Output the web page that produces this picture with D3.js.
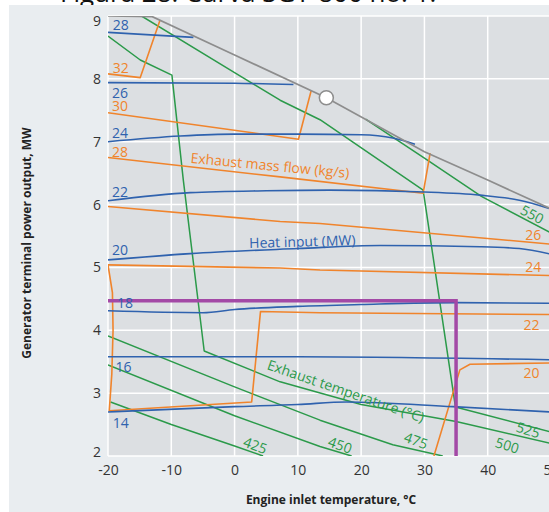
<!DOCTYPE html>
<html>
<head>
<meta charset="utf-8">
<script src="https://cdn.jsdelivr.net/npm/d3@7"></script>
<style>
html, body { margin: 0; padding: 0; background: #fff; }
svg { display: block; font-family: "Open Sans", sans-serif; }
</style>
</head>
<body>
<svg id="chart" width="549" height="512"></svg>
<script>
// axis ticks
var xTicks = [-20, -10, 0, 10, 20, 30, 40, 50];
var yTicks = [2, 3, 4, 5, 6, 7, 8, 9];

// operating limit (grey) and design point
var limitLine = [[-20, 9.0], [-13, 8.99], [0, 8.38], [14.5, 7.70], [30, 6.84], [40, 6.39], [50, 5.93]];
var designPoint = [14.5, 7.70];

// heat input, MW (blue)
var heatInput = [
    { label: "28", at: [-18.0, 8.86], values: [[-20, 8.74], [-6.5, 8.66]] },
    { label: "26", at: [-18.1, 7.79], values: [[-20, 7.94], [0, 7.93], [9.3, 7.91]] },
    { label: "24", at: [-18.1, 7.15], values: [[-20, 7.0], [-8.6, 7.09], [0, 7.12], [10, 7.12], [20, 7.11], [25, 7.06], [28.5, 6.96]] },
    { label: "22", at: [-18.1, 6.21], values: [[-20, 6.06], [-7, 6.19], [5, 6.22], [15, 6.23], [30, 6.2], [38.8, 6.15], [45, 6.07], [50, 5.93]] },
    { label: "20", at: [-18.1, 5.29], values: [[-20, 5.12], [-7, 5.22], [10, 5.3], [23, 5.35], [38.8, 5.33], [45, 5.3], [50, 5.21]] },
    { label: "18", at: [-17.3, 4.45], values: [[-20, 4.31], [-5, 4.28], [0, 4.33], [10, 4.38], [20, 4.41], [35, 4.44], [50, 4.43]] },
    { label: "16", at: [-17.55, 3.42], values: [[-20, 3.58], [10, 3.58], [50, 3.53]] },
    { label: "14", at: [-18.0, 2.53], values: [[-20, 2.7], [0, 2.785], [10, 2.82], [17.7, 2.86], [34.5, 2.785], [50, 2.7]] }
];

// exhaust mass flow, kg/s (orange)
var massFlow = [
    { label: "32", at: [-18.0, 8.18], values: [[-20, 8.08], [-14.9, 8.02], [-11.8, 8.93]] },
    { label: "30", at: [-18.1, 7.57], values: [[-20, 7.46], [10.1, 7.04], [12.1, 7.81]] },
    { label: "28", at: [-18.1, 6.84], values: [[-20, 6.75], [7.2, 6.44], [29.8, 6.18], [30.9, 6.82]] },
    { label: "26", at: [47.2, 5.52], values: [[-20, 5.97], [7.2, 5.73], [13.5, 5.7], [50, 5.37]] },
    { label: "24", at: [47.2, 5.02], values: [[-20, 5.04], [7.2, 4.99], [13.5, 4.96], [50, 4.87]] },
    { label: "22", at: [46.9, 4.1], values: [[-20, 5.04], [-19.3, 4.6], [-19.2, 4.0], [-19.4, 3.3], [-19.8, 2.72], [2.7, 2.86], [4.1, 4.3], [13.5, 4.28], [50, 4.25]] },
    { label: "20", at: [46.9, 3.33], values: [[31.5, 2.0], [35.6, 3.37], [37.2, 3.46], [50, 3.48]] }
];

// exhaust temperature, °C (green)
var exhaustTemp = [
    { label: "550", at: [47.06, 5.85], angle: 28, values: [[20.7, 7.36], [30, 6.74], [39, 6.13], [50, 5.55]] },
    { label: "525", at: [46.4, 2.42], angle: 17, values: [[-14.7, 9.0], [0, 8.1], [7.2, 7.66], [13.5, 7.35], [29.8, 6.23], [34.9, 2.78], [50, 2.38]] },
    { label: "500", at: [43.1, 2.175], angle: 17, values: [[-20, 8.68], [-14.9, 8.3], [-9.9, 8.06], [-8.1, 6.39], [-4.8, 3.67], [7.2, 3.18], [20, 2.82], [35, 2.55], [50, 2.2]] },
    { label: "475", at: [28.7, 2.25], angle: 20, values: [[-20, 3.91], [0, 3.1], [13.5, 2.57], [25, 2.18], [32.9, 2.0]] },
    { label: "450", at: [16.7, 2.18], angle: 20, values: [[-20, 3.45], [0, 2.64], [13.5, 2.15], [18.5, 2.0]] },
    { label: "425", at: [3.3, 2.175], angle: 20, values: [[-19.6, 2.86], [-10, 2.5], [0, 2.16], [4.5, 2.0]] }
];

// selected operating point (purple)
var selection = [[-20, 4.47], [35, 4.47], [35, 2.0]];

// family titles: text, position, angle
var familyTitles = [
    { text: "Exhaust mass flow (kg/s)", at: [5.6, 6.63], angle: 5.5, color: "#f0842c" },
    { text: "Heat input (MW)", at: [10.7, 5.42], angle: -1.5, color: "#2f62ae" },
    { text: "Exhaust temperature (°C)", at: [17.6, 3.04], angle: 19, color: "#2b9a4a" }
];

var blue = "#2f62ae", orange = "#f0842c", green = "#2b9a4a", grey = "#8d8d8d", purple = "#a349a6";

var svg = d3.select("#chart");

var x = d3.scaleLinear().domain([-20, 50]).range([108, 551]);
var y = d3.scaleLinear().domain([2, 9]).range([456, 16]);

// page title, mostly cut off above the panel
svg.append("text")
    .attr("x", 60)
    .attr("y", 2)
    .attr("font-size", 26)
    .attr("fill", "#111")
    .text("Figura 28. Curva SGT-800 no. 1.");

svg.append("rect")
    .attr("x", 9).attr("y", 5)
    .attr("width", 540).attr("height", 507)
    .attr("fill", "#e9edf0");

svg.append("rect")
    .attr("x", x(-20)).attr("y", y(9))
    .attr("width", x(50) - x(-20)).attr("height", y(2) - y(9))
    .attr("fill", "#dcdfe2");

svg.append("clipPath").attr("id", "plotclip")
    .append("rect")
    .attr("x", x(-20)).attr("y", y(9))
    .attr("width", x(50) - x(-20)).attr("height", y(2) - y(9));

// grid
var grid = svg.append("g").attr("stroke", "#fff").attr("stroke-width", 1.5);
grid.selectAll(".vx").data(xTicks).enter().append("line")
    .attr("x1", function(d) { return x(d); }).attr("x2", function(d) { return x(d); })
    .attr("y1", y(9)).attr("y2", y(2));
grid.selectAll(".hy").data(yTicks).enter().append("line")
    .attr("x1", x(-20)).attr("x2", x(50))
    .attr("y1", function(d) { return y(d); }).attr("y2", function(d) { return y(d); });

var plot = svg.append("g").attr("clip-path", "url(#plotclip)");

var straight = d3.line()
    .x(function(d) { return x(d[0]); })
    .y(function(d) { return y(d[1]); });
var smooth = d3.line()
    .x(function(d) { return x(d[0]); })
    .y(function(d) { return y(d[1]); })
    .curve(d3.curveMonotoneX);

function drawFamily(series, color, gen, width) {
    plot.append("g").selectAll("path")
        .data(series)
        .enter()
        .append("path")
        .attr("fill", "none")
        .attr("stroke", color)
        .attr("stroke-width", width)
        .attr("stroke-linejoin", "round")
        .attr("d", function(d) { return gen(d.values); });
}

drawFamily(exhaustTemp, green, straight, 1.5);
drawFamily(massFlow, orange, straight, 1.6);
drawFamily(heatInput, blue, smooth, 1.6);

plot.append("path")
    .attr("fill", "none")
    .attr("stroke", grey)
    .attr("stroke-width", 1.7)
    .attr("d", straight(limitLine));

plot.append("path")
    .attr("fill", "none")
    .attr("stroke", purple)
    .attr("stroke-width", 3.5)
    .attr("d", straight(selection));

plot.append("circle")
    .attr("cx", x(designPoint[0]))
    .attr("cy", y(designPoint[1]))
    .attr("r", 7)
    .attr("fill", "#fff")
    .attr("stroke", grey)
    .attr("stroke-width", 1.5);

// curve labels
function labelFamily(series, color) {
    svg.append("g").selectAll("text")
        .data(series)
        .enter()
        .append("text")
        .attr("font-size", 14)
        .attr("fill", color)
        .attr("text-anchor", "middle")
        .attr("dominant-baseline", "central")
        .attr("transform", function(d) {
            return "translate(" + x(d.at[0]) + "," + y(d.at[1]) + ") rotate(" + (d.angle || 0) + ")";
        })
        .text(function(d) { return d.label; });
}
labelFamily(heatInput, blue);
labelFamily(massFlow, orange);
labelFamily(exhaustTemp, green);

svg.append("g").selectAll("text")
    .data(familyTitles)
    .enter()
    .append("text")
    .attr("font-size", 14)
    .attr("fill", function(d) { return d.color; })
    .attr("text-anchor", "middle")
    .attr("dominant-baseline", "central")
    .attr("transform", function(d) {
        return "translate(" + x(d.at[0]) + "," + y(d.at[1]) + ") rotate(" + d.angle + ")";
    })
    .text(function(d) { return d.text; });

// axes
var gX = svg.append("g")
    .attr("transform", "translate(0," + y(2) + ")")
    .call(d3.axisBottom(x).tickValues(xTicks).tickSize(0).tickPadding(9).tickFormat(String));
var gY = svg.append("g")
    .attr("transform", "translate(" + x(-20) + ",0)")
    .call(d3.axisLeft(y).tickValues(yTicks).tickSize(0).tickPadding(7).tickFormat(String));
[gX, gY].forEach(function(g) {
    g.select(".domain").remove();
    g.attr("font-family", null).attr("font-size", null);
    g.selectAll("text").attr("font-size", 14).attr("fill", "#333");
});
gY.selectAll(".tick text").attr("dy", function(d) {
    if (d === 9) return "0.7em";
    if (d === 2) return "0em";
    return "0.32em";
});

svg.append("text")
    .attr("transform", "translate(31,243) rotate(-90)")
    .attr("text-anchor", "middle")
    .attr("font-size", 12)
    .attr("font-weight", "bold")
    .attr("fill", "#222")
    .text("Generator terminal power output, MW");

svg.append("text")
    .attr("x", 331)
    .attr("y", 504)
    .attr("text-anchor", "middle")
    .attr("font-size", 12)
    .attr("font-weight", "bold")
    .attr("fill", "#222")
    .text("Engine inlet temperature, °C");
</script>
</body>
</html>
